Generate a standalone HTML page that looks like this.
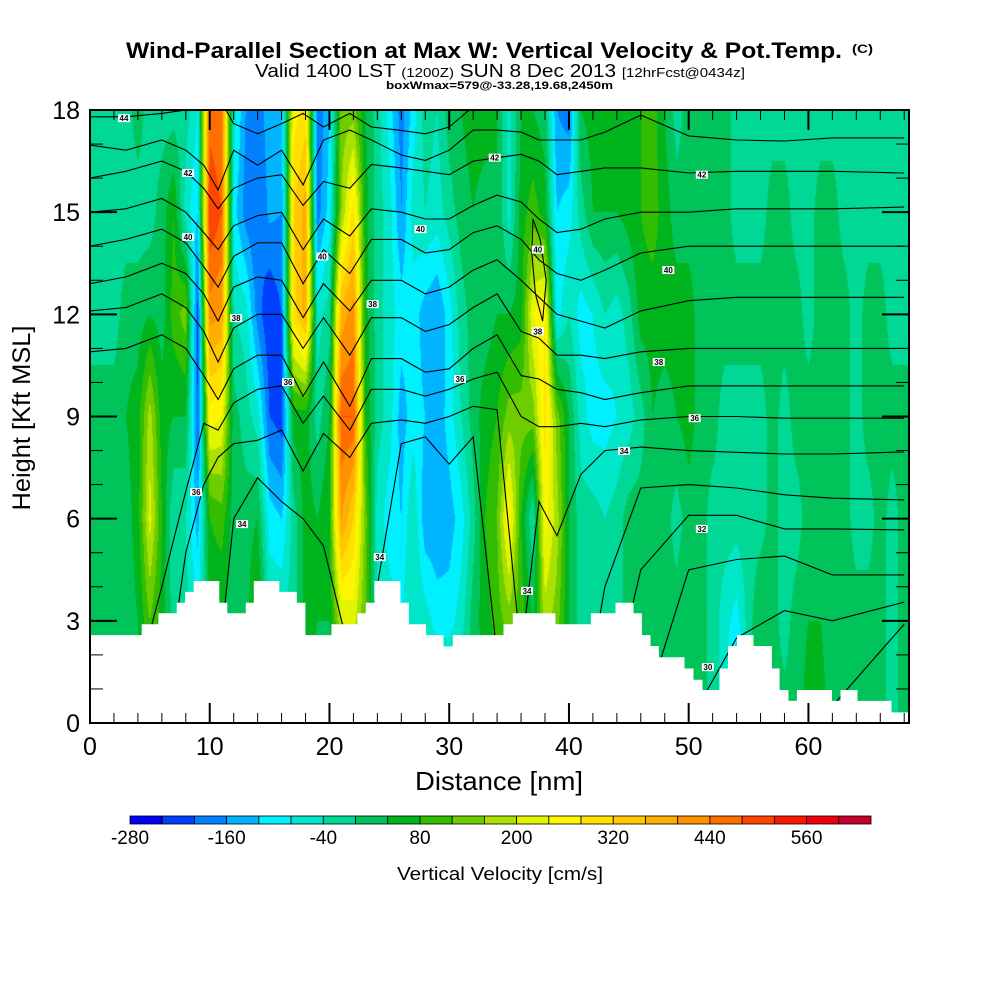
<!DOCTYPE html>
<html><head><meta charset="utf-8"><style>
html,body{margin:0;padding:0;background:#fff;width:1000px;height:1000px;overflow:hidden}
#wrap{position:relative;width:1000px;height:1000px}
#field{position:absolute;left:90px;top:110px}
#svg{position:absolute;left:0;top:0}
text{font-family:"Liberation Sans",Arial,sans-serif}
</style></head><body>
<div id="wrap">
<canvas id="field" width="819" height="613"></canvas>
<svg id="svg" width="1000" height="1000" xmlns="http://www.w3.org/2000/svg">
<g>
<text x="126" y="58" font-size="22" font-weight="bold" textLength="716" lengthAdjust="spacingAndGlyphs">Wind-Parallel Section at Max W: Vertical Velocity &amp; Pot.Temp.</text>
<text x="852" y="53" font-size="12" font-weight="bold" textLength="21" lengthAdjust="spacingAndGlyphs">(C)</text>
<text x="255" y="77" font-size="18" textLength="490" lengthAdjust="spacingAndGlyphs">Valid 1400 LST <tspan font-size="13">(1200Z)</tspan> SUN 8 Dec 2013 <tspan font-size="13">[12hrFcst@0434z]</tspan></text>
<text x="386" y="89" font-size="11" font-weight="bold" textLength="227" lengthAdjust="spacingAndGlyphs">boxWmax=579@-33.28,19.68,2450m</text>
</g>
<g id="contours"></g>
<g id="terrain"></g>
<g id="clabels"></g>
<g id="ticks"></g>
<rect x="90" y="110" width="819" height="613" fill="none" stroke="#000" stroke-width="2"/>
<g id="ylabels"></g>
<g id="xlabels"></g>
<text x="30" y="418" font-size="25" text-anchor="middle" transform="rotate(-90 30 418)" textLength="185" lengthAdjust="spacingAndGlyphs">Height [Kft MSL]</text>
<text x="499" y="790" font-size="26" text-anchor="middle" textLength="168" lengthAdjust="spacingAndGlyphs">Distance [nm]</text>
<g id="cbar"></g>
<text x="500" y="880" font-size="18" text-anchor="middle" textLength="206" lengthAdjust="spacingAndGlyphs">Vertical Velocity [cm/s]</text>
</svg>
</div>
<script>
// ---- data ----
const rowHeights=[0,3,6,9,12,15,18];
const w0=[20,20,20,20,40,100,60,20,20,-40,
20,20,20,20,20,20,20,20,20,20,
20,20,20,20,20,20,20,20,20,20,
20,20,20,20,20,20,20,20,20,20,
20,20,20,20,20,20,40,20,20,20,
40,20,-20,-60,-200,20,40,20,20,20,
60,60,20,20,20,20,20,-20,20];
const w3=[20,20,20,20,40,120,60,-20,-20,-80,
40,40,20,20,100,-40,-40,-20,60,40,
40,200,220,120,-40,-60,-80,-40,-60,-100,
-100,-60,20,60,100,140,100,40,180,140,
40,-20,-20,-20,-20,20,40,20,20,20,
40,20,-20,-60,-100,-20,40,20,-20,20,
40,40,20,20,20,20,20,-20,20];
const w6=[20,20,20,20,60,220,80,-40,-40,-140,
80,100,20,20,40,-100,-120,-20,60,40,
80,400,320,140,-60,-100,-120,-40,-150,-150,
-140,-100,-20,80,120,280,80,-40,260,180,
40,-20,-20,-40,-20,20,20,20,20,-20,
20,20,-20,-20,-20,-20,-20,20,-20,-20,
20,20,20,20,-20,-20,20,-20,20];
const w9=[20,20,20,40,60,180,60,40,40,-200,
260,240,20,-20,-60,-200,-220,60,60,-20,
40,480,480,80,-20,-60,-140,-100,-120,-150,
-100,-40,20,60,80,140,140,140,300,140,
40,-60,-100,-100,-80,-60,-20,40,20,40,
60,20,20,-20,-20,-20,-20,20,-20,20,
20,20,20,20,-20,20,20,20,20];
const w12=[-20,-20,-20,20,20,40,20,100,140,-220,
420,400,-40,-60,-180,-240,-200,300,380,-60,
-20,380,420,60,-20,-60,-100,-100,-140,-160,
-100,-20,20,20,40,40,60,240,280,-100,
-40,-100,-80,-40,-60,-20,60,60,60,60,
60,20,20,20,20,20,20,20,20,20,
-20,20,20,20,-20,20,20,-20,-20];
const w15=[-20,-20,-20,-20,-20,-20,20,80,-60,-120,
520,480,-100,-180,-200,-150,-160,320,380,-180,
-100,160,300,60,-20,-60,-160,-60,-40,-60,
-20,20,40,20,40,-60,60,100,60,-120,
-100,-20,40,40,40,60,80,100,60,20,
20,20,20,20,-20,-20,-20,20,20,-20,
-20,20,20,-20,-20,-20,-20,-20,-20];
const w18=[-20,-20,-20,-20,20,-20,-20,-20,-20,-80,
460,440,-60,-160,-180,-140,-140,260,300,-200,
-120,140,140,40,-20,-100,-180,-100,-20,-40,
20,40,60,60,40,-60,40,40,20,-160,
-180,40,60,60,40,60,80,100,40,-20,
20,20,20,20,-20,-20,-20,-20,-20,-20,
-20,-20,-20,-20,-20,-20,-20,-20,-20];

const terrEnd=[4.32,5.71,7.24,7.94,8.66,10.80,11.47,13.01,13.68,15.81,17.27,17.99,20.16,22.33,23.03,23.75,25.92,26.63,28.07,29.52,30.30,34.53,35.31,38.87,41.83,43.89,45.39,46.09,46.81,47.51,49.65,50.40,51.15,52.57,53.28,54.03,55.41,56.95,57.59,58.34,59.04,61.96,62.68,64.10,66.94,68.4];
const terrH=[2.58,2.9,3.22,3.53,3.85,4.17,3.53,3.22,3.53,4.17,3.85,3.53,2.58,2.9,3.22,3.53,4.17,3.53,2.9,2.58,2.25,2.58,2.9,3.22,2.9,3.22,3.53,3.22,2.58,2.26,1.93,1.6,1.27,0.97,1.6,2.26,2.58,2.26,1.6,0.97,0.65,0.97,0.65,0.97,0.65,0.31];

const thetaX=[0,3,6,8,9.5,10.7,12,14,16,17.8,19.5,21.7,23.5,26,28,30,32,34,36,37.5,39,41,43,46,50,54,58,62,68];
const th44=[17.8,17.8,17.9,18.0,18.2,18.4,17.6,17.3,17.6,17.9,17.5,17.9,17.5,17.4,17.3,17.5,18.1,18.6,18.6,18.6,18.6,18.6,18.6,18.6,18.6,18.6,18.6,18.6,18.6];
const th43=[16.97,16.82,17.12,16.82,16.38,15.65,16.82,16.38,16.82,15.8,17.12,17.41,17.12,16.68,16.52,16.82,17.41,17.41,17.35,17.12,17.12,17.12,17.35,17.85,17.24,17.12,17.09,17.18,17.18];
const th42=[16.0,16.2,16.5,16.2,15.7,15.1,15.7,16.0,16.1,15.2,15.9,15.7,16.4,16.3,16.2,16.1,16.5,16.6,16.7,16.5,16.1,16.2,16.3,16.3,16.15,16.2,16.2,16.2,16.15];
const th41=[15.0,15.1,15.4,15.0,14.4,13.9,14.6,14.9,15.0,13.9,14.8,14.3,15.1,15.0,14.8,14.8,15.2,15.5,15.3,14.8,14.4,14.5,14.8,15.0,15.0,15.1,15.1,15.1,15.15];
const th40=[14.0,14.2,14.5,14.1,13.4,12.8,13.7,14.1,14.1,12.9,13.9,13.2,14.2,14.2,13.8,13.9,14.4,14.6,14.2,13.6,13.2,13.0,13.3,13.8,14.0,14.0,14.0,14.0,14.0];
const th39=[12.9,13.1,13.5,13.2,12.6,11.8,12.8,13.1,13.0,11.9,12.9,12.1,13.0,13.0,12.6,12.8,13.3,13.6,13.0,12.5,12.0,11.8,11.6,12.1,12.4,12.5,12.5,12.5,12.5];
const th38=[12.1,12.2,12.6,12.2,11.5,10.6,11.6,12.0,12.0,11.0,11.9,10.8,11.9,11.9,11.5,11.7,12.2,12.6,11.5,11.3,10.8,10.8,10.7,10.9,11.0,11.0,11.0,11.0,11.0];
const th37=[10.9,11.0,11.4,11.0,10.2,9.5,10.4,10.8,10.8,9.6,10.6,9.3,10.7,10.7,10.3,10.4,11.0,11.4,10.2,10.1,9.8,9.7,9.5,9.7,9.9,9.9,9.9,9.9,9.9];
const th36=[0,0,4.0,6.8,8.8,8.6,9.4,9.8,9.9,8.8,9.6,8.6,9.8,9.8,9.6,9.8,10.1,10.3,9.0,8.7,8.7,8.8,8.7,8.9,9.0,9.0,8.95,8.95,8.95];
const th35=[0,0,0,5.0,7.0,7.8,8.2,8.3,8.6,7.4,8.5,7.8,8.8,8.9,8.8,9.0,9.3,9.2,2.0,6.5,5.5,7.3,8.0,8.1,8.0,7.95,7.9,7.9,7.96];
const th34=[0,0,0,0,0,1.5,6.0,7.2,6.5,6.0,5.2,2.0,3.0,8.2,8.4,7.6,8.4,2.0,2.0,0,0,0,4.0,6.9,7.0,6.9,6.7,6.6,6.55];
const th33=[0,0,0,0,0,0,0,0,0,0,0,0,0,0,0,0,0,0,0,0,0,0,0,4.5,6.1,6.1,5.7,5.7,5.67];
const th32=[0,0,0,0,0,0,0,0,0,0,0,0,0,0,0,0,0,0,0,0,0,0,0,0,4.5,4.8,4.9,4.35,4.35];
const th31=[0,0,0,0,0,0,0,0,0,0,0,0,0,0,0,0,0,0,0,0,0,0,0,0,0,2.5,3.3,3.0,3.55];
const th30=[0,0,0,0,0,0,0,0,0,0,0,0,0,0,0,0,0,0,0,0,0,0,0,0,0,0,0,0.5,2.9];
const loopX=[37.0,37.6,38.1,37.8,37.2,36.9];
const loopH=[14.8,14.2,13.0,11.8,12.6,13.8];

const labelText=["44","42","40","38","36","40","38","40","42","36","36","34","34","34","40","38","40","38","36","34","32","30","42"];
const labelX=[2.84,8.19,8.19,12.2,16.54,19.4,23.6,27.6,33.8,30.9,8.86,12.7,24.2,36.5,37.4,37.4,48.3,47.5,50.5,44.6,51.1,51.6,51.1];
const labelH=[17.76,16.15,14.27,11.89,10.01,13.7,12.3,14.5,16.6,10.1,6.78,5.84,4.87,3.88,13.9,11.5,13.3,10.6,8.95,7.99,5.7,1.64,16.1];

const cbarLevels=[-280,-240,-200,-160,-120,-80,-40,0,40,80,120,160,200,240,280,320,360,400,440,480,520,560,600,640];
const cbarTickLabels=["-280","-160","-40","80","200","320","440","560"];
const cbarTickValues=[-280,-160,-40,80,200,320,440,560];
const palette=["#0000f5","#0040ff","#0080ff","#00b4ff","#00f0ff","#00e6c8","#00d896","#00c35a","#00b41e","#32be00","#6ecd00","#aae100","#e1f500","#fff500","#ffe100","#ffc800","#ffaf00","#ff9100","#ff6e00","#ff4600","#fa1900","#f0000f","#c8002d"];
const xTicks=[0,10,20,30,40,50,60];
const yTicks=[0,3,6,9,12,15,18];

// ---- scales ----
const XMAX=68.4, HMAX=18;
const xs=nm=>90+nm*819/XMAX;
const ys=h=>723-h*613/HMAX;
const NS='http://www.w3.org/2000/svg';
function mk(tag,attrs,parent){const e=document.createElementNS(NS,tag);for(const k in attrs)e.setAttribute(k,attrs[k]);parent.appendChild(e);return e;}

// ---- field ----
const rows=[w0,w3,w6,w9,w12,w15,w18];
const ctx=document.getElementById('field').getContext('2d');
const img=ctx.createImageData(819,613);
const pal=palette.map(c=>[parseInt(c.slice(1,3),16),parseInt(c.slice(3,5),16),parseInt(c.slice(5,7),16)]);
for(let j=0;j<613;j++){
  const h=(613-j-0.5)*HMAX/613;
  let r=h/3; let ri=Math.min(Math.floor(r),5); let fy=r-ri;
  for(let i=0;i<819;i++){
    let nm=Math.min((i+0.5)*XMAX/819,68);
    let ci=Math.min(Math.floor(nm),67); let fx=nm-ci;
    const a=rows[ri][ci],b=rows[ri][ci+1],c=rows[ri+1][ci],d=rows[ri+1][ci+1];
    const v=(a*(1-fx)+b*fx)*(1-fy)+(c*(1-fx)+d*fx)*fy;
    let bin=Math.floor((v-cbarLevels[0])/40); bin=Math.max(0,Math.min(22,bin));
    const p=pal[bin]; const k=(j*819+i)*4;
    img.data[k]=p[0];img.data[k+1]=p[1];img.data[k+2]=p[2];img.data[k+3]=255;
  }
}
ctx.putImageData(img,0,0);

// ---- contours ----
const cg=document.getElementById('contours');
const clip=mk('clipPath',{id:'pc'},mk('defs',{},cg));
mk('rect',{x:90,y:110,width:819,height:613},clip);
const lines=[th44,th43,th42,th41,th40,th39,th38,th37,th36,th35,th34,th33,th32,th31,th30];
lines.forEach((arr,li)=>{
  const pts=thetaX.map((x,i)=>xs(x).toFixed(1)+','+ys(arr[i]).toFixed(1)).join(' ');
  const pl=mk('polyline',{points:pts,fill:'none',stroke:'#000','stroke-width':1.1,'clip-path':'url(#pc)'},cg);
  
  
});
const lp=mk('polygon',{points:loopX.map((x,i)=>xs(x).toFixed(1)+','+ys(loopH[i]).toFixed(1)).join(' '),fill:'none',stroke:'#000','stroke-width':1.1},cg);



// ---- terrain ----
const tg=document.getElementById('terrain');
let tp=[[xs(0),ys(0)]];
terrEnd.forEach((e,i)=>{const s=i===0?0:terrEnd[i-1];tp.push([xs(s),ys(terrH[i])]);tp.push([xs(e),ys(terrH[i])]);});
tp.push([xs(XMAX),ys(0)]);
const terr=mk('polygon',{points:tp.map(p=>p[0].toFixed(1)+','+p[1].toFixed(1)).join(' '),fill:'#fff'},tg);



// ---- contour labels ----
const lg=document.getElementById('clabels');
labelText.forEach((t,i)=>{
  const g=mk('g',{},lg);
  
  
  const x=xs(labelX[i]),y=ys(labelH[i]);
  mk('rect',{x:x-6,y:y-4,width:12,height:8,fill:'#fff'},g);
  const tx=mk('text',{x:x,y:y+3,'font-size':8,'font-weight':'bold','text-anchor':'middle'},g);
  tx.textContent=t;
});

// ---- ticks ----
const kg=document.getElementById('ticks');
for(let nm=0;nm<=68;nm+=2){
  const major=nm%10===0, L=major?20:10, x=xs(nm);
  mk('line',{x1:x,y1:723,x2:x,y2:723-L,stroke:'#000','stroke-width':major?2:1},kg);
  mk('line',{x1:x,y1:110,x2:x,y2:110+L,stroke:'#000','stroke-width':major?2:1},kg);
}
for(let h=0;h<=18;h++){
  const major=h%3===0, L=major?27:13, y=ys(h);
  mk('line',{x1:90,y1:y,x2:90+L,y2:y,stroke:'#000','stroke-width':major?2:1},kg);
  mk('line',{x1:909,y1:y,x2:909-L,y2:y,stroke:'#000','stroke-width':major?2:1},kg);
}
const yl=document.getElementById('ylabels');
yTicks.forEach(h=>{
  const t=mk('text',{x:80,y:ys(h)+9,'font-size':25,'text-anchor':'end'},yl);
  
  
  t.textContent=h;
});
const xl=document.getElementById('xlabels');
xTicks.forEach(nm=>{
  const t=mk('text',{x:xs(nm),y:755,'font-size':25,'text-anchor':'middle'},xl);
  
  
  t.textContent=nm;
});

// ---- colorbar ----
const cb=document.getElementById('cbar');
const cx=v=>130+(v-cbarLevels[0])*741/(cbarLevels[cbarLevels.length-1]-cbarLevels[0]);
palette.forEach((c,i)=>{
  const r=mk('rect',{x:cx(cbarLevels[i]),y:816,width:cx(cbarLevels[i+1])-cx(cbarLevels[i]),height:8,fill:c,stroke:'#000','stroke-width':0.8},cb);
  
  
});
cbarTickValues.forEach((v,i)=>{
  const t=mk('text',{x:cx(v),y:844,'font-size':19,'text-anchor':'middle'},cb);
  
  
  t.textContent=cbarTickLabels[i];
});
</script>
</body></html>
